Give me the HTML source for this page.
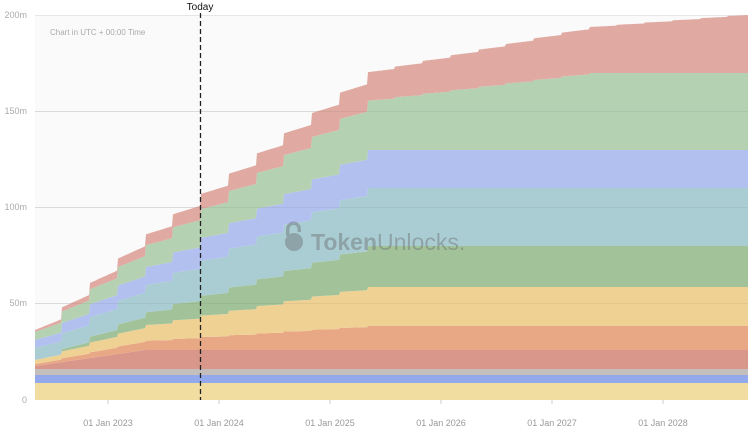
<!DOCTYPE html>
<html><head><meta charset="utf-8"><style>
body{margin:0;background:#fff;width:750px;height:430px;overflow:hidden;font-family:"Liberation Sans",sans-serif}
</style></head><body>
<svg id="s" width="750" height="430" xmlns="http://www.w3.org/2000/svg" font-family="Liberation Sans, sans-serif">
<rect x="35" y="15" width="713" height="385" fill="#fafafa"/>
<g stroke="#e6e6e6" stroke-width="1">
<line x1="35" y1="15.5" x2="748" y2="15.5"/><line x1="35" y1="111.5" x2="748" y2="111.5"/>
<line x1="35" y1="207.5" x2="748" y2="207.5"/><line x1="35" y1="303.5" x2="748" y2="303.5"/>
</g>
<g id="layers"></g>
<g stroke="#000" stroke-opacity="0.05"><line x1="35" y1="111.5" x2="748" y2="111.5"/><line x1="35" y1="207.5" x2="748" y2="207.5"/><line x1="35" y1="303.5" x2="748" y2="303.5"/></g>
<g font-size="9" fill="#aaa" text-anchor="end">
<text x="27" y="18">200m</text><text x="27" y="114">150m</text><text x="27" y="210">100m</text><text x="27" y="306">50m</text><text x="27" y="403">0</text>
</g>
<text x="50" y="35" font-size="8" fill="#aaa">Chart in UTC + 00:00 Time</text>
<g stroke="#ccc"><line x1="108" y1="400" x2="108" y2="404"/><line x1="219" y1="400" x2="219" y2="404"/><line x1="330" y1="400" x2="330" y2="404"/><line x1="441" y1="400" x2="441" y2="404"/><line x1="552" y1="400" x2="552" y2="404"/><line x1="663" y1="400" x2="663" y2="404"/></g>
<g font-size="9" fill="#999" text-anchor="middle">
<text x="108" y="426">01 Jan 2023</text><text x="219" y="426">01 Jan 2024</text><text x="330" y="426">01 Jan 2025</text><text x="441" y="426">01 Jan 2026</text><text x="552" y="426">01 Jan 2027</text><text x="663" y="426">01 Jan 2028</text>
</g>
<g opacity="0.4" fill="#666">
<path d="M286 236 v-7 a7.5 7.5 0 0 1 15 0 v3 h-3.5 v-3 a4 4 0 0 0 -8 0 v7z"/>
<circle cx="294" cy="242" r="9"/>
<text x="311" y="250" font-size="23" font-weight="bold">Token<tspan font-weight="normal">Unlocks.</tspan></text>
</g>
<line x1="200.5" y1="13" x2="200.5" y2="400" stroke="#222" stroke-width="1.3" stroke-dasharray="5,3"/>
<text x="200" y="10" font-size="10" fill="#111" text-anchor="middle">Today</text>
</svg>
<script>
var L=[
["#f2dda0",17,17,35,36,0],
["#94a8ec",8,8,35,36,0],
["#c4bfbd",6,6,35,36,0],
["#d9968a",3,19,35,145,0],
["#e9a885",2,24,35,369,1],
["#efd194",4,39,35,369,1],
["#a2c39a",0,41,62,369,1],
["#a9cdd3",12,58,35,369,1],
["#b1c0ee",8,38,35,369,1],
["#b4d1b2",8,77,35,590,1],
["#e0aaa2",2,58,35,748,1]];
var P=27.75,X0=62;
function th(l,x){var s=l[1],e=l[2],a=l[3],b=l[4];if(x<a)return 0;if(x>=b)return e;
var lin=(x-a)/(b-a);if(!l[5])return s+(e-s)*lin;
var sf=b>400?0.4:0.65;
var q0=Math.ceil((a-X0)/P),q1=Math.floor((b-X0)/P),N=Math.max(1,q1-q0+1);
var k=Math.floor((x-X0)/P)-q0+1;k=Math.max(0,Math.min(N,k));
return s+(e-s)*((1-sf)*lin+sf*k/N);}
var base=[],xs=[];for(var x=35;x<=748;x++){xs.push(x);base.push(400);}
var g=document.getElementById('layers'),out='';
L.forEach(function(l){var top=[];var d='';
for(var i=0;i<xs.length;i++){top.push(base[i]-th(l,xs[i]));}
d='M'+xs[0]+' '+base[0];for(i=0;i<xs.length;i++)d+='L'+xs[i]+' '+top[i].toFixed(1);
for(i=xs.length-1;i>=0;i--)d+='L'+xs[i]+' '+base[i].toFixed(1);
out+='<path d="'+d+'Z" fill="'+l[0]+'"/>';base=top;});
g.innerHTML=out;
</script>
</body></html>
